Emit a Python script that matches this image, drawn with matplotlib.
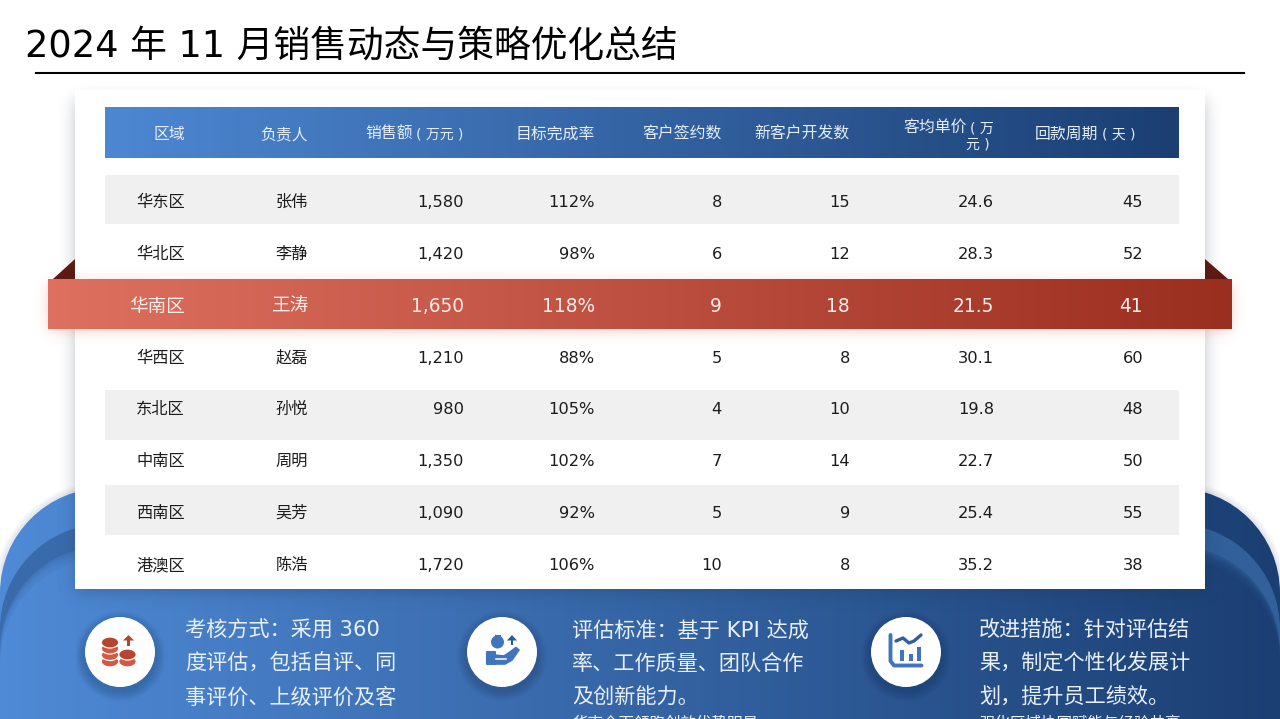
import math
import numpy as np
import matplotlib
matplotlib.use("Agg")
import matplotlib.pyplot as plt
from matplotlib.colors import LinearSegmentedColormap, to_rgb
from matplotlib.patches import Circle, Ellipse, PathPatch, Polygon, Rectangle
from matplotlib.path import Path

plt.rcParams['font.family'] = ['DejaVu Sans', 'Noto Sans CJK SC']

title = "2024 年 11 月销售动态与策略优化总结"

headers = ["区域", "负责人", "销售额", "目标完成率", "客户签约数", "新客户开发数", "客均单价", "回款周期"]
header_units = ["", "", "( 万元 )", "", "", "", "( 万", "( 天 )"]

regions = ["华东区", "华北区", "华南区", "华西区", "东北区", "中南区", "西南区", "港澳区"]
managers = ["张伟", "李静", "王涛", "赵磊", "孙悦", "周明", "吴芳", "陈浩"]
sales = ["1,580", "1,420", "1,650", "1,210", "980", "1,350", "1,090", "1,720"]
completion = ["112%", "98%", "118%", "88%", "105%", "102%", "92%", "106%"]
contracts = [8, 6, 9, 5, 4, 7, 5, 10]
new_clients = [15, 12, 18, 8, 10, 14, 9, 8]
unit_price = ["24.6", "28.3", "21.5", "30.1", "19.8", "22.7", "25.4", "35.2"]
payback_days = [45, 52, 41, 60, 48, 50, 55, 38]

notes = [
    ["考核方式：采用 360", "度评估，包括自评、同", "事评价、上级评价及客"],
    ["评估标准：基于 KPI 达成", "率、工作质量、团队合作", "及创新能力。"],
    ["改进措施：针对评估结", "果，制定个性化发展计", "划，提升员工绩效。"],
]
note_tails = ["", "华南全面领跑创效优势明显", "强化区域协同赋能与经验共享"]

W, H = 1280, 719
col_right = [185, 308, 464, 595, 722, 850, 994, 1143]
head_right = [185, 308, 463, 595, 722, 850, 994, 1135]
row_y = [201, 253, 305, 357, 408, 460, 512, 564]
gray_rows = [(175, 224), (390, 440), (485, 535)]
HL = 2

fig = plt.figure(figsize=(W / 100, H / 100), dpi=100)
ax = fig.add_axes([0, 0, 1, 1])
ax.set_xlim(0, W)
ax.set_ylim(H, 0)
ax.axis("off")


def hgrad(x0, x1, y0, y1, c0, c1, z, clip=None, alpha=None):
    cmap = LinearSegmentedColormap.from_list("g", [c0, c1])
    im = ax.imshow(np.linspace(0, 1, 256)[None, :], extent=(x0, x1, y1, y0), cmap=cmap,
                   aspect="auto", zorder=z, interpolation="bilinear", alpha=alpha)
    if clip is not None:
        clip.set_transform(ax.transData)
        im.set_clip_path(clip)
    return im


def shadow(x0, y0, x1, y1, blur, color, alpha, z):
    # soft box shadow, gaussian edge on all four sides
    erf = np.vectorize(math.erf)
    xs = np.arange(W) + 0.5
    ys = np.arange(H) + 0.5
    s = blur * math.sqrt(2)
    ax_ = 0.5 * (erf((xs - x0) / s) - erf((xs - x1) / s))
    ay_ = 0.5 * (erf((ys - y0) / s) - erf((ys - y1) / s))
    rgba = np.zeros((H, W, 4))
    rgba[..., :3] = to_rgb(color)
    rgba[..., 3] = alpha * np.outer(ay_, ax_)
    ax.imshow(rgba, extent=(0, W, H, 0), aspect="auto", zorder=z, interpolation="bilinear")


def round_top(x0, x1, top, r):
    k = 0.5523 * r
    verts = [(x0, H + 5), (x0, top + r), (x0, top + r - k), (x0 + r - k, top), (x0 + r, top),
             (x1 - r, top), (x1 - r + k, top), (x1, top + r - k), (x1, top + r), (x1, H + 5), (x0, H + 5)]
    codes = [Path.MOVETO, Path.LINETO, Path.CURVE4, Path.CURVE4, Path.CURVE4,
             Path.LINETO, Path.CURVE4, Path.CURVE4, Path.CURVE4, Path.LINETO, Path.CLOSEPOLY]
    return PathPatch(Path(verts, codes), transform=ax.transData)


# background layers at the bottom
for lw in [9, 6, 3]:
    edge = round_top(0, W, 488, 105)
    edge.set(fc="none", ec="#20406e", lw=lw, alpha=0.04, zorder=0.5)
    ax.add_patch(edge)
hgrad(0, W, 480, H, "#4f8ad6", "#1b3f73", 1, round_top(0, W, 488, 105))
hgrad(0, W, 480, H, "#3a6cac", "#31609a", 2, round_top(0, W, 524, 105))
for k, top in enumerate([546, 549, 552, 555]):
    hgrad(0, W, 480, H, "#4f8ad6", "#1b3f73", 3 + k * 0.1, round_top(0, W, top, 105), alpha=0.4)
hgrad(0, W, 480, H, "#4f8ad6", "#1b3f73", 3.5, round_top(0, W, 558, 105))

# white panel
shadow(75, 100, 1205, 592, 8, "#1a2a44", 0.28, 4)
ax.add_patch(Rectangle((75, 90), 1130, 499, fc="white", ec="none", zorder=5))

# header bar
hgrad(105, 1179, 107, 158, "#4d87d2", "#1b3f73", 6)
for r, name, unit in zip(head_right, headers, header_units):
    y = 132 if name == "客均单价" else 139
    xr = r
    if unit:
        t = ax.text(xr, y, unit, ha="right", va="baseline", fontsize=10, color="#e6eef8", zorder=7)
        xr -= t.get_window_extent(fig.canvas.get_renderer()).width + 3
    ax.text(xr, y, name, ha="right", va="baseline", fontsize=11.4, color="#e6eef8", zorder=7)
ax.text(head_right[6] - 4, 149, "元 )", ha="right", va="baseline", fontsize=10, color="#e6eef8", zorder=7)

# table rows
for y0, y1 in gray_rows:
    ax.add_patch(Rectangle((105, y0), 1074, y1 - y0, fc="#f0f0f0", ec="none", zorder=6))

columns = [regions, managers, sales, completion, contracts, new_clients, unit_price, payback_days]
for j, col in enumerate(columns):
    for i, val in enumerate(col):
        if i == HL:
            continue
        ax.text(col_right[j], row_y[i] + 6, str(val), ha="right", va="baseline", fontsize=11.7,
                color="#1c1c1c", zorder=7)

# highlighted row, wider than the panel, with folded corners
shadow(50, 284, 1230, 329, 7, "#e06a50", 0.42, 8)
ax.add_patch(Polygon([(75, 259), (53, 279), (75, 279)], fc="#5c1a12", ec="none", zorder=8))
ax.add_patch(Polygon([(1205, 259), (1228, 279), (1205, 279)], fc="#5c1a12", ec="none", zorder=8))
hgrad(48, 1232, 279, 329, "#de7060", "#9b2f1f", 9)
for j, col in enumerate(columns):
    ax.text(col_right[j], row_y[HL] + 6.5, str(col[HL]), ha="right", va="baseline", fontsize=13.4,
            color="#fbeeea", zorder=10)

# title and rule
ax.text(25, 57, title, ha="left", va="baseline", fontsize=26.5, color="black", zorder=10)
ax.plot([35, 1245], [72.5, 72.5], color="black", lw=1.5, zorder=10, solid_capstyle="butt")

# bottom notes
for x, lines, tail in zip([185, 572, 979], notes, note_tails):
    for y, line in zip([637, 670, 704], lines):
        ax.text(x, y, line, ha="left", va="baseline", fontsize=15.2, color="#e9f0fa", zorder=10)
    if tail:
        ax.text(x, 728, tail, ha="left", va="baseline", fontsize=11.2, color="#e9f0fa", zorder=10)

# icon circles
for cx in [120, 502, 906]:
    for k in range(10):
        ax.add_patch(Circle((cx, 656), 35 + 10 - k, fc="#10233f", ec="none", alpha=0.025, zorder=10))
    ax.add_patch(Circle((cx, 652), 35, fc="white", ec="none", zorder=11))

# coins icon
red = "#cf5a46"
dark_red = "#b5452f"
for cx, ys in [(110, [661.5, 655, 648.5, 642.5]), (127.5, [661.5, 654.5])]:
    for n, y in enumerate(ys):
        fc = dark_red if n == len(ys) - 1 else red
        ax.add_patch(Ellipse((cx, y), 17.5, 11, fc=fc, ec="white", lw=0.9, zorder=12))
ax.add_patch(Polygon([(123, 640.5), (128.5, 635), (134, 640.5)], fc=dark_red, ec="none", zorder=12))
ax.add_patch(Rectangle((127.2, 639), 2.6, 6.5, fc=dark_red, ec="none", zorder=12))

# hand with money bag icon
blue = "#3f75bd"
ax.add_patch(Circle((497.5, 642), 6.5, fc=blue, ec="none", zorder=12))
ax.add_patch(Rectangle((494.5, 635), 6, 3.5, fc=blue, ec="none", zorder=12))
ax.add_patch(Polygon([(507, 640.5), (512, 635), (517, 640.5)], fc="#2a5a98", ec="none", zorder=12))
ax.add_patch(Rectangle((510.8, 639), 2.4, 5.5, fc="#2a5a98", ec="none", zorder=12))
ax.add_patch(Rectangle((487, 652), 8, 12, fc=blue, ec=blue, lw=1.5, joinstyle="round", zorder=12))
hand = [(490, 664), (505, 664), (512, 660), (519, 650), (516, 647.5), (510, 652), (504, 656), (493, 655)]
ax.add_patch(Polygon(hand, fc=blue, ec=blue, lw=1.2, joinstyle="round", zorder=12))
ax.plot([496, 506], [658.5, 658.5], color="white", lw=1.1, zorder=13)

# chart icon
ax.plot([890.5, 890.5, 894, 921.5], [635, 661, 665.5, 665.5], color=blue, lw=2.8, zorder=12,
        solid_capstyle="round", solid_joinstyle="round")
ax.plot([896, 903, 909, 914, 921], [641, 638, 643, 641, 635], color="#2f5f9f", lw=2.4, zorder=12,
        solid_capstyle="round")
for bx, top in zip([902, 911, 919], [650, 654, 647]):
    ax.add_patch(Rectangle((bx - 1.7, top), 3.4, 661 - top, fc=blue, ec="none", zorder=12))

ax.set_xlim(0, W)
ax.set_ylim(H, 0)
fig.savefig("out.png", dpi=100)
